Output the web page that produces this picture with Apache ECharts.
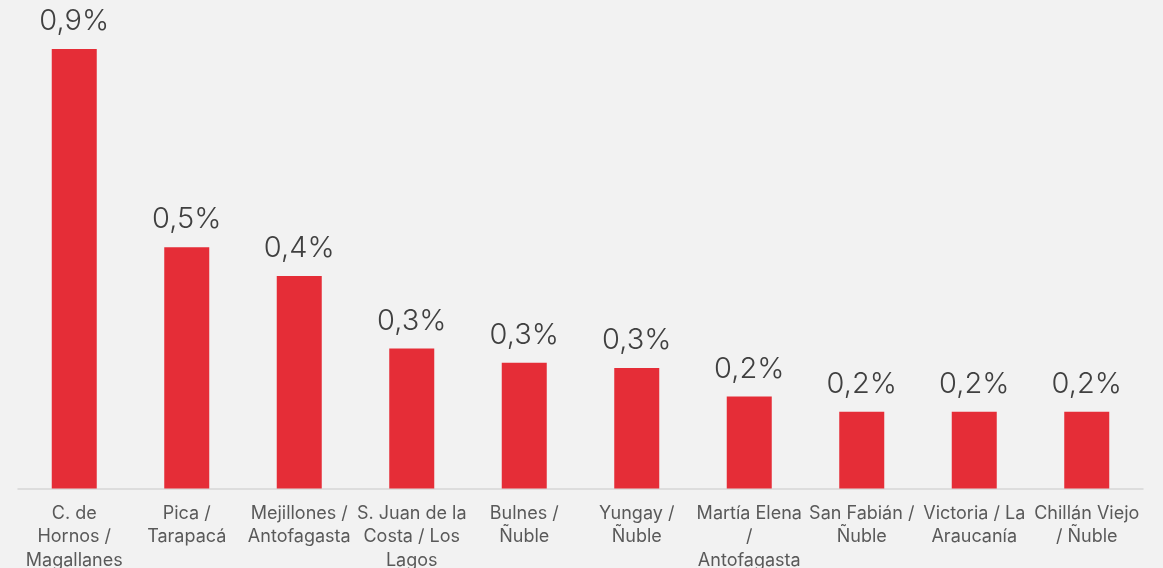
<html>

<head>
    <script src="https://cdn.jsdelivr.net/npm/echarts@6/dist/echarts.min.js"></script>
    <style>
        html, body {
            margin: 0;
            padding: 0;
            background: #f2f2f2;
        }
        #chart {
            width: 1163px;
            height: 568px;
        }
    </style>
</head>

<body>
    <div id="chart"></div>
    <script>
        // comunas (con salto de línea como en el original)
        var comunas = [
            'C. de\nHornos /\nMagallanes',
            'Pica /\nTarapacá',
            'Mejillones /\nAntofagasta',
            'S. Juan de la\nCosta / Los\nLagos',
            'Bulnes /\nÑuble',
            'Yungay /\nÑuble',
            'Martía Elena\n/\nAntofagasta',
            'San Fabián /\nÑuble',
            'Victoria / La\nAraucanía',
            'Chillán Viejo\n/ Ñuble'
        ];
        // participación (%)
        var valores = [0.916, 0.503, 0.443, 0.292, 0.262, 0.251, 0.192, 0.160, 0.160, 0.160];

        var myChart = echarts.init(document.getElementById('chart'));
        var option = {
            backgroundColor: '#f2f2f2',
            grid: {
                left: 18,
                right: 20,
                top: 49,
                bottom: 79.5,
                containLabel: false,
                outerBoundsMode: 'none'
            },
            xAxis: {
                type: 'category',
                data: comunas,
                axisTick: { show: false },
                axisLine: {
                    lineStyle: { color: '#d6d6d6', width: 1.5 }
                },
                axisLabel: {
                    interval: 0,
                    margin: 13,
                    color: '#595959',
                    fontFamily: 'Inter',
                    fontSize: 18,
                    lineHeight: 23.5
                }
            },
            yAxis: {
                type: 'value',
                min: 0,
                max: 'dataMax',
                show: false,
                splitLine: { show: false }
            },
            series: [{
                type: 'bar',
                data: valores,
                barWidth: '40%',
                itemStyle: { color: '#e52d37' },
                label: {
                    show: true,
                    position: 'top',
                    distance: 13,
                    color: '#404040',
                    fontFamily: 'Inter',
                    fontWeight: 300,
                    fontSize: 29,
                    formatter: function (p) {
                        return p.value.toFixed(1).replace('.', ',') + '%';
                    }
                }
            }]
        };
        myChart.setOption(option);
    </script>
</body>

</html>
